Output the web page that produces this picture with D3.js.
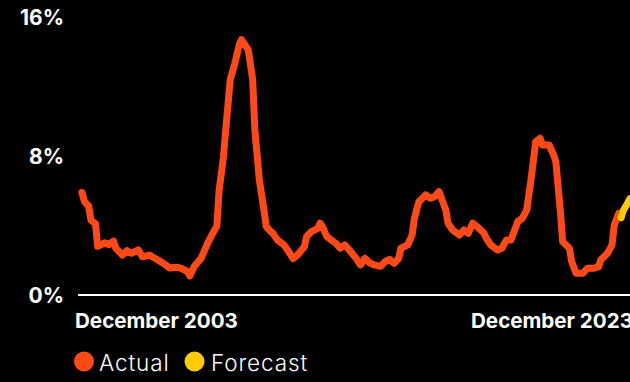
<!DOCTYPE html>
<html>
<head>
<meta charset="utf-8">
<script src="https://cdn.jsdelivr.net/npm/d3@7/dist/d3.min.js"></script>
<style>
  html, body { margin: 0; padding: 0; background: #000; }
  svg { display: block; }
</style>
</head>
<body>
<svg id="chart" width="630" height="382"></svg>
<script>
// Monthly default rate (%), actual history
const actualDates = [
  "2003-12","2004-01","2004-03","2004-04","2004-06","2004-07","2004-10","2004-12",
  "2005-02","2005-03","2005-06","2005-08","2005-10","2006-01","2006-03","2006-06",
  "2006-10","2007-01","2007-03","2007-06","2007-08","2007-11","2007-12","2008-02",
  "2008-05","2008-08","2008-11","2008-12","2009-01","2009-03","2009-04","2009-06",
  "2009-08","2009-10","2009-11","2010-02","2010-04","2010-05","2010-07","2010-09",
  "2010-10","2010-12","2011-01","2011-03","2011-06","2011-08","2011-10","2011-12",
  "2012-03","2012-04","2012-06","2012-09","2012-10","2012-11","2013-01","2013-03",
  "2013-05","2013-07","2013-09","2013-11","2014-02","2014-04","2014-06","2014-08",
  "2014-10","2015-01","2015-03","2015-05","2015-07","2015-09","2015-10","2016-01",
  "2016-03","2016-04","2016-06","2016-09","2016-11","2017-01","2017-03","2017-06",
  "2017-07","2017-09","2017-12","2018-02","2018-04","2018-06","2018-08","2018-11",
  "2018-12","2019-02","2019-05","2019-07","2019-09","2019-11","2020-02","2020-04",
  "2020-06","2020-08","2020-10","2020-12","2021-01","2021-04","2021-06","2021-07",
  "2021-09","2021-10","2022-01","2022-02","2022-04","2022-07","2022-09","2022-12",
  "2023-02","2023-03","2023-06","2023-08","2023-09","2023-11","2023-12"
];
const actualValues = [
  5.9, 5.4, 5.1, 4.3, 4.1, 2.8, 3.0, 2.9,
  3.1, 2.7, 2.3, 2.55, 2.4, 2.6, 2.2, 2.3,
  2.0, 1.75, 1.55, 1.6, 1.55, 1.35, 1.1, 1.65,
  2.1, 3.0, 3.75, 3.95, 6.0, 7.95, 9.5, 12.4,
  13.3, 14.4, 14.7, 14.1, 12.4, 9.5, 6.6, 4.9,
  3.95, 3.65, 3.55, 3.17, 2.88, 2.5, 2.1, 2.3,
  2.78, 3.36, 3.64, 3.84, 4.13, 3.93, 3.36, 3.17,
  2.98, 2.69, 2.88, 2.59, 2.11, 1.73, 2.11, 1.86,
  1.73, 1.65, 1.92, 2.05, 1.82, 2.11, 2.69, 2.88,
  3.45, 4.41, 5.37, 5.76, 5.57, 5.66, 5.95, 4.89,
  4.13, 3.74, 3.45, 3.74, 3.55, 4.13, 3.93, 3.55,
  3.26, 2.88, 2.59, 2.69, 3.17, 3.17, 4.22, 4.41,
  4.89, 6.72, 8.82, 9.02, 8.63, 8.63, 8.06, 7.67,
  4.79, 3.07, 2.69, 1.92, 1.25, 1.25, 1.54, 1.54,
  1.63, 2.01, 2.4, 2.88, 4.03, 4.7, 4.45
];
// Projected path, starting from the last actual reading
const forecastDates = ["2023-12","2024-01","2024-03","2024-04"];
const forecastValues = [4.45, 4.85, 5.3, 5.55];

const yTicks = [0, 8, 16];
const xTickDates = ["2003-12", "2023-12"];
const xTickLabels = ["December 2003", "December 2023"];
const seriesNames = ["Actual", "Forecast"];
const seriesColors = ["#ff4a17", "#ffcc00"];

const parse = d3.timeParse("%Y-%m");
const actual = actualDates.map((d, i) => ({ date: parse(d), value: actualValues[i] }));
const forecast = forecastDates.map((d, i) => ({ date: parse(d), value: forecastValues[i] }));

const svg = d3.select("#chart");
const W = 630, H = 382;
svg.append("rect").attr("width", W).attr("height", H).attr("fill", "#000");

const x = d3.scaleTime()
  .domain([parse(xTickDates[0]), parse(xTickDates[1])])
  .range([82, 621]);
const y = d3.scaleLinear().domain([0, 16]).range([295, 17]);

const labelFont = "Inter, 'Noto Sans', sans-serif";

// y-axis labels
svg.append("g").selectAll("text")
  .data(yTicks)
  .join("text")
  .attr("x", 64)
  .attr("y", d => y(d) + 7.5)
  .attr("text-anchor", "end")
  .attr("fill", "#fff")
  .attr("font-family", labelFont)
  .attr("font-weight", 700)
  .attr("font-size", 21)
  .text(d => d + "%");

// baseline
svg.append("line")
  .attr("x1", 78).attr("x2", W)
  .attr("y1", y(0)).attr("y2", y(0))
  .attr("stroke", "#fff").attr("stroke-width", 2);

// x-axis labels
svg.append("g").selectAll("text")
  .data(xTickDates)
  .join("text")
  .attr("x", (d, i) => i === 0 ? x(parse(d)) - 7 : x(parse(d)) - 150)
  .attr("y", 328)
  .attr("text-anchor", "start")
  .attr("fill", "#fff")
  .attr("font-family", labelFont)
  .attr("font-weight", 700)
  .attr("font-size", 20.6)
  .text((d, i) => xTickLabels[i]);

const line = d3.line()
  .x(d => x(d.date))
  .y(d => y(d.value))
  .curve(d3.curveLinear);

svg.append("path")
  .datum(actual)
  .attr("d", line)
  .attr("fill", "none")
  .attr("stroke", seriesColors[0])
  .attr("stroke-width", 7)
  .attr("stroke-linejoin", "round")
  .attr("stroke-linecap", "round");

svg.append("path")
  .datum(forecast)
  .attr("d", line)
  .attr("fill", "none")
  .attr("stroke", seriesColors[1])
  .attr("stroke-width", 7)
  .attr("stroke-linejoin", "round")
  .attr("stroke-linecap", "round");

// legend
const legendItems = [
  { name: seriesNames[0], color: seriesColors[0], cx: 84, tx: 99 },
  { name: seriesNames[1], color: seriesColors[1], cx: 194.5, tx: 211 }
];
const lg = svg.append("g");
legendItems.forEach(it => {
  lg.append("circle").attr("cx", it.cx).attr("cy", 361.5).attr("r", 10).attr("fill", it.color);
  lg.append("text")
    .attr("x", it.tx).attr("y", 371)
    .attr("fill", "#fff")
    .attr("font-family", labelFont)
    .attr("font-weight", 300)
    .attr("font-size", 22.5)
    .attr("letter-spacing", 0.9)
    .text(it.name);
});
</script>
</body>
</html>
